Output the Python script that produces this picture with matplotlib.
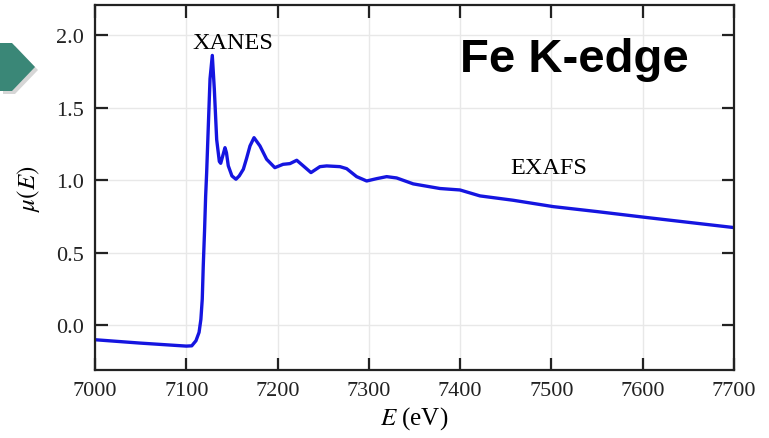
import matplotlib.pyplot as plt
from matplotlib.patches import Polygon
import numpy as np

# energy (eV) and absorption
energy = [7000, 7049, 7100, 7106, 7110.6, 7114, 7116, 7117.5, 7118.6, 7120,
          7121.2, 7122.3, 7124, 7126, 7128.5, 7130.7, 7133.3, 7136.2, 7137.7, 7140,
          7142.4, 7144, 7146, 7150, 7154.4, 7158, 7162.5, 7166, 7169.8, 7174.2,
          7180.7, 7188, 7197, 7206, 7213.6, 7221, 7228, 7236.6, 7246.4, 7253.8,
          7268.3, 7275.7, 7286.6, 7297.6, 7308.5, 7319.5, 7330.4, 7348.6, 7377.9, 7399.8,
          7421.7, 7458, 7502, 7549.5, 7604, 7659, 7699]
mu = [-0.101, -0.124, -0.145, -0.143, -0.108, -0.05, 0.04, 0.18, 0.41, 0.65,
      0.89, 1.05, 1.35, 1.70, 1.862, 1.63, 1.28, 1.13, 1.117, 1.17,
      1.225, 1.19, 1.10, 1.03, 1.007, 1.03, 1.076, 1.15, 1.237, 1.294,
      1.237, 1.145, 1.087, 1.11, 1.115, 1.138, 1.10, 1.053, 1.094, 1.099,
      1.094, 1.08, 1.025, 0.995, 1.011, 1.025, 1.016, 0.975, 0.943, 0.933,
      0.892, 0.862, 0.818, 0.784, 0.743, 0.703, 0.674]

x_ticks = [7000, 7100, 7200, 7300, 7400, 7500, 7600, 7700]
y_ticks = [0.0, 0.5, 1.0, 1.5, 2.0]

plt.rcParams['font.family'] = 'Liberation Serif'
plt.rcParams['mathtext.fontset'] = 'stix'

fig = plt.figure(figsize=(7.69, 4.39), dpi=100)
ax = fig.add_axes([95 / 769, 1 - 371 / 439, 639 / 769, 365 / 439])

ax.plot(energy, mu, color='#1515e0', lw=2.4, solid_capstyle='round',
        solid_joinstyle='round')

ax.set_xlim(7000, 7700)
ax.set_ylim(-0.31, 2.21)
ax.set_xticks(x_ticks)
ax.set_yticks(y_ticks)
ax.set_yticklabels([f"{v:.1f}" for v in y_ticks])
ax.grid(color='#e8e8e8', lw=1)
ax.tick_params(direction='in', length=9, width=1.6, top=True, right=True,
               labelsize=16, pad=8, colors='#222222')
for s in ax.spines.values():
    s.set_linewidth(1.6)
    s.set_color('#222222')

ax.set_xlabel('$E$ (eV)', fontsize=18, labelpad=3)
ax.set_ylabel(r'$\mu(E)$', fontsize=18, labelpad=10)

ax.text(7151, 1.95, 'XANES', fontsize=17.5, ha='center', va='center')
ax.text(7497, 1.09, 'EXAFS', fontsize=17.5, ha='center', va='center')
ax.text(7525, 1.84, 'Fe K-edge', fontsize=34, fontweight='bold',
        family='Liberation Sans', ha='center', va='center')

# teal arrow shape at left edge
pts = np.array([[0, 44], [12, 44], [35, 68], [12, 92], [0, 92]], dtype=float)
shadow = pts + [3, 3]
fig.patches.append(Polygon(np.c_[shadow[:, 0] / 769, 1 - shadow[:, 1] / 439],
                           closed=True, transform=fig.transFigure,
                           color='#bbbbbb', alpha=0.6, lw=0))
fig.patches.append(Polygon(np.c_[pts[:, 0] / 769, 1 - pts[:, 1] / 439],
                           closed=True, transform=fig.transFigure,
                           color='#3a8777', lw=0))

fig.savefig('out.png', dpi=100)
